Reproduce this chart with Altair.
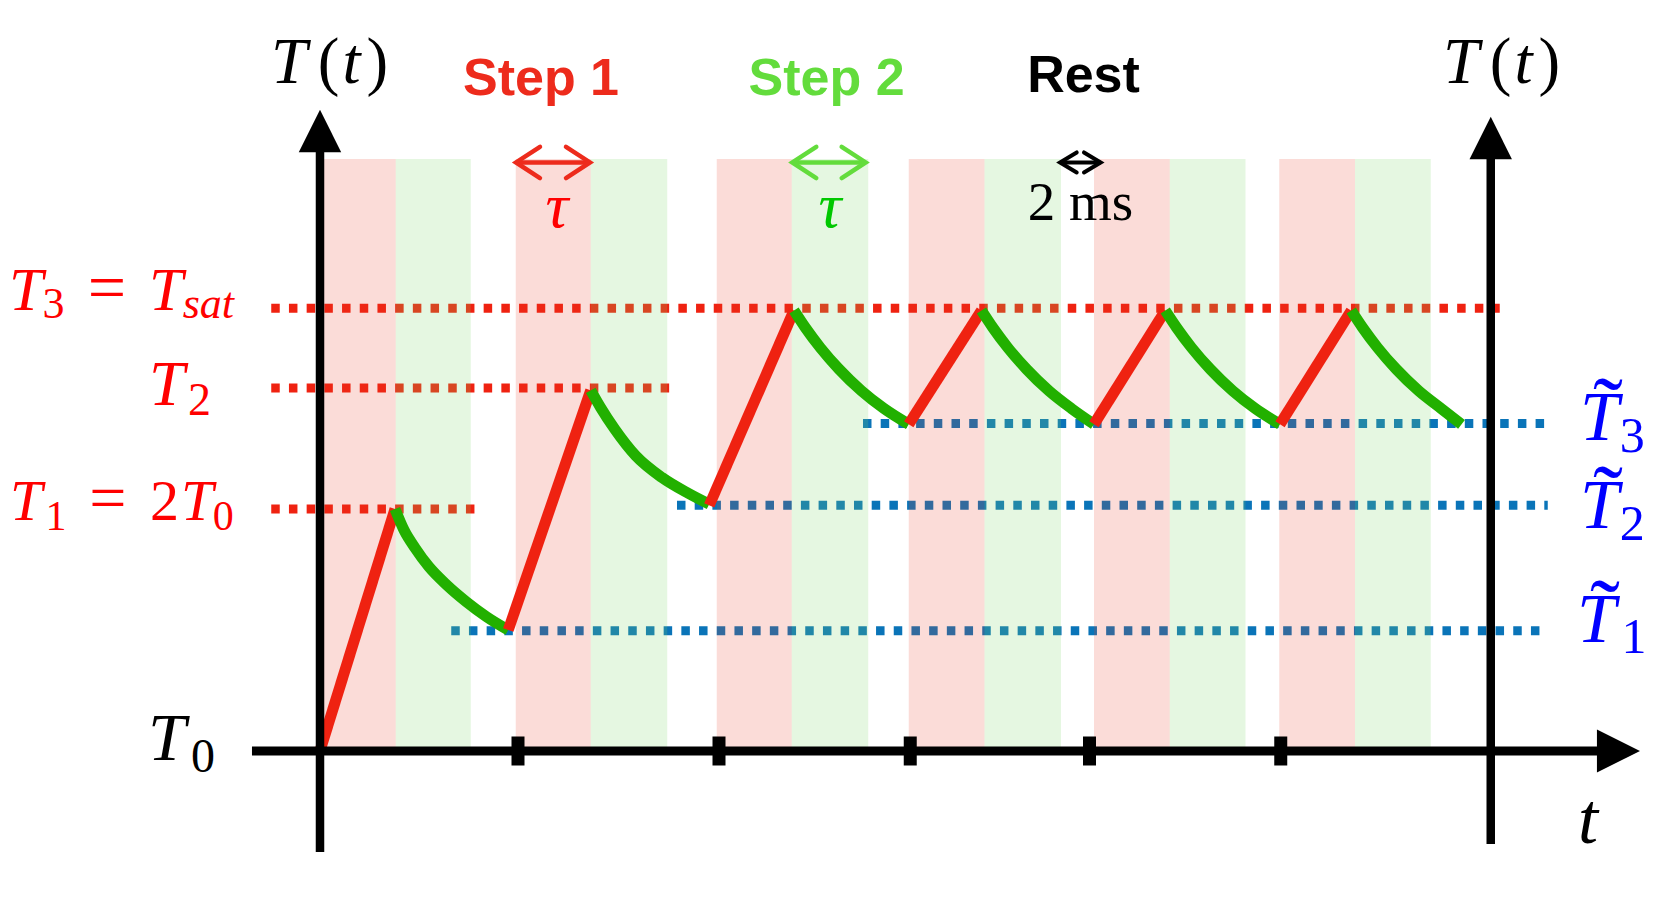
import altair as alt
import pandas as pd

# ---------------- values ----------------
# time in units of the pulse length tau, temperature in units of T0 (T0 = 1, T1 = 2*T0)
band_red_start = [0.03, 2.61, 5.29, 7.85, 10.32, 12.79]
band_red_end = [1.01, 3.61, 6.29, 8.86, 11.33, 13.80]
band_green_end = [2.01, 4.63, 7.31, 9.88, 12.34, 14.81]
band_floor = 1.0
band_ceiling = 3.446

tick_t = [2.64, 5.32, 7.87, 10.26, 12.81]

# heating ramps (step 1)
heat_t0 = [0.00, 2.51, 5.19, 7.85, 10.32, 12.80]
heat_y0 = [1.00, 1.50, 2.015, 2.35, 2.35, 2.35]
heat_t1 = [1.00, 3.61, 6.32, 8.82, 11.27, 13.75]
heat_y1 = [2.00, 2.49, 2.82, 2.82, 2.82, 2.82]

# cooling curves (step 2 + rest)
cool_t = [
    [1.00, 1.12, 1.27, 1.45, 1.69, 1.95, 2.22, 2.51],
    [3.61, 3.74, 3.93, 4.21, 4.56, 4.91, 5.19],
    [6.32, 6.47, 6.67, 6.92, 7.22, 7.52, 7.85],
    [8.82, 8.97, 9.17, 9.42, 9.72, 10.02, 10.32],
    [11.27, 11.42, 11.62, 11.87, 12.17, 12.47, 12.80],
    [13.75, 13.90, 14.10, 14.35, 14.65, 14.95, 15.22],
]
cool_y = [
    [2.00, 1.913, 1.838, 1.762, 1.686, 1.617, 1.555, 1.50],
    [2.49, 2.42, 2.33, 2.22, 2.13, 2.065, 2.02],
    [2.82, 2.75, 2.667, 2.578, 2.488, 2.415, 2.35],
    [2.82, 2.75, 2.667, 2.578, 2.488, 2.415, 2.35],
    [2.82, 2.75, 2.667, 2.578, 2.488, 2.415, 2.35],
    [2.82, 2.75, 2.667, 2.578, 2.488, 2.415, 2.35],
]

# dotted reference levels
red_level = [2.83, 2.50, 2.00]
red_level_from = [-0.65, -0.65, -0.65]
red_level_to = [15.73, 4.66, 2.10]
blue_level = [1.497, 2.015, 2.353]
blue_level_from = [1.75, 4.76, 7.24]
blue_level_to = [16.37, 16.37, 16.37]

# axes
left_axis_t, left_axis_y = 0.0, [0.583, 3.475]
right_axis_t, right_axis_y = 15.61, [0.616, 3.446]
x_axis_y, x_axis_t = 1.0, [-0.907, 17.03]
head_up_t = [0.0, 15.61]
head_up_y = [3.562, 3.533]
head_right_t, head_right_y = 17.313, 1.0

# duration arrows
arrow_t0 = [2.613, 6.297, 9.867]
arrow_t1 = [3.600, 7.276, 10.409]
arrow_y = 3.432

# ---------------- chart ----------------
W, H = 1640, 876
xs = alt.Scale(domain=[-4.16, 17.7067], nice=False, zero=False)
ys = alt.Scale(domain=[0.4504, 4.0702], nice=False, zero=False)

RED_LINE = "#ef2211"
GREEN_LINE = "#22b000"
BLUE_DOT = "#0a74b8"
STEP1 = "#ed2b1c"
STEP2 = "#63dc3c"
SERIF = "Liberation Serif"
SANS = "Liberation Sans"


def X(f="t"):
    return alt.X(f"{f}:Q", scale=xs, axis=None)


def Y(f="y"):
    return alt.Y(f"{f}:Q", scale=ys, axis=None)


layers = []

# dotted level lines
red_df = pd.DataFrame({"y": red_level, "t": red_level_from, "t2": red_level_to})
blue_df = pd.DataFrame({"y": blue_level, "t": blue_level_from, "t2": blue_level_to})
for df, col in [(red_df, RED_LINE), (blue_df, BLUE_DOT)]:
    layers.append(
        alt.Chart(df).mark_rule(color=col, strokeWidth=9, strokeDash=[8.5, 9.2], strokeCap="butt")
        .encode(x=X(), x2="t2:Q", y=Y())
    )

# shaded bands
red_band = pd.DataFrame({"t": band_red_start, "t2": band_red_end, "y": band_floor, "y2": band_ceiling})
green_band = pd.DataFrame({"t": band_red_end, "t2": band_green_end, "y": band_floor, "y2": band_ceiling})
layers.append(alt.Chart(red_band).mark_rect(color="#e93d27", opacity=0.18)
              .encode(x=X(), x2="t2:Q", y=Y(), y2="y2:Q"))
layers.append(alt.Chart(green_band).mark_rect(color="#7fd867", opacity=0.2)
              .encode(x=X(), x2="t2:Q", y=Y(), y2="y2:Q"))

# temperature curve, segments in time order
rows = []
seg = 0
for i in range(6):
    rows.append({"seg": f"s{seg:02d}", "kind": "heat", "o": 0, "t": heat_t0[i], "y": heat_y0[i]})
    rows.append({"seg": f"s{seg:02d}", "kind": "heat", "o": 1, "t": heat_t1[i], "y": heat_y1[i]})
    seg += 1
    for k, (tt, yy) in enumerate(zip(cool_t[i], cool_y[i])):
        rows.append({"seg": f"s{seg:02d}", "kind": "cool", "o": k, "t": tt, "y": yy})
    seg += 1
curve = pd.DataFrame(rows)
layers.append(
    alt.Chart(curve).mark_line(strokeWidth=11, strokeCap="butt", interpolate="monotone")
    .encode(x=X(), y=Y(), detail="seg:N", order="o:Q",
            color=alt.Color("kind:N", scale=alt.Scale(domain=["heat", "cool"], range=[RED_LINE, GREEN_LINE]),
                            legend=None))
)

# axes
axes_v = pd.DataFrame({"t": [left_axis_t, right_axis_t], "y": [left_axis_y[0], right_axis_y[0]],
                       "y2": [left_axis_y[1], right_axis_y[1]]})
layers.append(alt.Chart(axes_v).mark_rule(color="black", strokeWidth=8.5, strokeCap="butt")
              .encode(x=X(), y=Y(), y2="y2:Q"))
axes_h = pd.DataFrame({"t": [x_axis_t[0]], "t2": [x_axis_t[1]], "y": [x_axis_y]})
layers.append(alt.Chart(axes_h).mark_rule(color="black", strokeWidth=9, strokeCap="butt")
              .encode(x=X(), x2="t2:Q", y=Y()))
layers.append(alt.Chart(pd.DataFrame({"t": tick_t, "y": x_axis_y})).mark_tick(
    orient="vertical", color="black", thickness=13, size=29, opacity=1).encode(x=X(), y=Y()))
layers.append(alt.Chart(pd.DataFrame({"t": head_up_t, "y": head_up_y})).mark_point(
    shape="M0,-1L1,1L-1,1Z", size=1800, filled=True, color="black", opacity=1, strokeWidth=0)
    .encode(x=X(), y=Y()))
layers.append(alt.Chart(pd.DataFrame({"t": [head_right_t], "y": [head_right_y]})).mark_point(
    shape="M1,0L-1,-1L-1,1Z", size=1850, filled=True, color="black", opacity=1, strokeWidth=0)
    .encode(x=X(), y=Y()))

# duration arrows
arrow_style = [(STEP1, 4.5, 2304, 0.65), (STEP2, 4.5, 2304, 0.65), ("black", 4.0, 1115, 0.6)]
for i, (col, sw, sz, r) in enumerate(arrow_style):
    d = pd.DataFrame({"t": [arrow_t0[i]], "t2": [arrow_t1[i]], "y": [arrow_y]})
    layers.append(alt.Chart(d).mark_rule(color=col, strokeWidth=sw, strokeCap="butt")
                  .encode(x=X(), x2="t2:Q", y=Y()))
    layers.append(alt.Chart(pd.DataFrame({"t": [arrow_t0[i]], "y": [arrow_y]})).mark_point(
        shape=f"M1,-{r}L0,0L1,{r}", size=sz, filled=False, color=col, strokeWidth=sw, opacity=1,
        strokeCap="round", strokeJoin="miter").encode(x=X(), y=Y()))
    layers.append(alt.Chart(pd.DataFrame({"t": [arrow_t1[i]], "y": [arrow_y]})).mark_point(
        shape=f"M-1,-{r}L0,0L-1,{r}", size=sz, filled=False, color=col, strokeWidth=sw, opacity=1,
        strokeCap="round", strokeJoin="miter").encode(x=X(), y=Y()))

# text pieces: text, t, y, size, color, italic, font, weight, align
RED_TXT = "#ff0000"
BLUE_TXT = "#0000ff"
pieces = [
    # T(t) left and right
    ("T", -0.653, 3.760, 65, "black", True, SERIF, "normal", "left"),
    ("(", -0.030, 3.760, 65, "black", False, SERIF, "normal", "left"),
    ("t", 0.300, 3.760, 65, "black", True, SERIF, "normal", "left"),
    (")", 0.620, 3.760, 65, "black", False, SERIF, "normal", "left"),
    ("T", 14.973, 3.760, 65, "black", True, SERIF, "normal", "left"),
    ("(", 15.597, 3.760, 65, "black", False, SERIF, "normal", "left"),
    ("t", 15.927, 3.760, 65, "black", True, SERIF, "normal", "left"),
    (")", 16.247, 3.760, 65, "black", False, SERIF, "normal", "left"),
    # step titles
    ("Step 1", 2.947, 3.711, 52, STEP1, False, SANS, "bold", "center"),
    ("Step 2", 6.755, 3.711, 52, STEP2, False, SANS, "bold", "center"),
    ("Rest", 10.18, 3.723, 52, "black", False, SANS, "bold", "center"),
    # tau and 2 ms
    ("τ", 3.16, 3.165, 64, RED_TXT, True, SERIF, "normal", "center"),
    ("τ", 6.80, 3.165, 64, "#00c800", True, SERIF, "normal", "center"),
    ("2 ms", 10.14, 3.194, 55, "black", False, SERIF, "normal", "center"),
    # T3 = Tsat
    ("T", -4.147, 2.822, 61, RED_TXT, True, SERIF, "normal", "left"),
    ("3", -3.700, 2.789, 44, RED_TXT, False, SERIF, "normal", "left"),
    ("=", -2.840, 2.822, 68, RED_TXT, False, SERIF, "normal", "center"),
    ("T", -2.280, 2.822, 61, RED_TXT, True, SERIF, "normal", "left"),
    ("sat", -1.830, 2.789, 44, RED_TXT, True, SERIF, "normal", "left"),
    # T2
    ("T", -2.280, 2.430, 64, RED_TXT, True, SERIF, "normal", "left"),
    ("2", -1.760, 2.388, 46, RED_TXT, False, SERIF, "normal", "left"),
    # T1 = 2T0
    ("T", -4.133, 1.955, 58, RED_TXT, True, SERIF, "normal", "left"),
    ("1", -3.660, 1.913, 42, RED_TXT, False, SERIF, "normal", "left"),
    ("=", -2.827, 1.955, 66, RED_TXT, False, SERIF, "normal", "center"),
    ("2", -2.267, 1.955, 58, RED_TXT, False, SERIF, "normal", "left"),
    ("T", -1.853, 1.955, 58, RED_TXT, True, SERIF, "normal", "left"),
    ("0", -1.430, 1.913, 42, RED_TXT, False, SERIF, "normal", "left"),
    # T0
    ("T", -2.293, 0.963, 68, "black", True, SERIF, "normal", "left"),
    ("0", -1.720, 0.913, 48, "black", False, SERIF, "normal", "left"),
    # t
    ("t", 16.773, 0.620, 72, "black", True, SERIF, "normal", "left"),
    # tilde T labels
    ("T", 16.800, 2.285, 70, BLUE_TXT, True, SERIF, "normal", "left"),
    ("3", 17.330, 2.236, 50, BLUE_TXT, False, SERIF, "normal", "left"),
    ("˜", 17.173, 2.285, 90, BLUE_TXT, False, SERIF, "normal", "center"),
    ("T", 16.800, 1.921, 70, BLUE_TXT, True, SERIF, "normal", "left"),
    ("2", 17.330, 1.872, 50, BLUE_TXT, False, SERIF, "normal", "left"),
    ("˜", 17.173, 1.921, 90, BLUE_TXT, False, SERIF, "normal", "center"),
    ("T", 16.760, 1.452, 70, BLUE_TXT, True, SERIF, "normal", "left"),
    ("1", 17.355, 1.405, 50, BLUE_TXT, False, SERIF, "normal", "left"),
    ("˜", 17.133, 1.452, 90, BLUE_TXT, False, SERIF, "normal", "center"),
]
for (txt, tt, yy, sz, col, it, fnt, wt, al) in pieces:
    d = pd.DataFrame({"label": [txt], "t": [tt], "y": [yy]})
    kw = dict(fontSize=sz, color=col, font=fnt, fontWeight=wt, align=al, baseline="alphabetic")
    if it:
        kw["fontStyle"] = "italic"
    layers.append(alt.Chart(d).mark_text(**kw).encode(x=X(), y=Y(), text="label:N"))

chart = alt.layer(*layers).properties(
    width=W, height=H, padding=0, autosize=alt.AutoSizeParams(type="none")
).configure_view(strokeWidth=0)

chart.save("out.html", embed_options={"renderer": "svg", "actions": False})
